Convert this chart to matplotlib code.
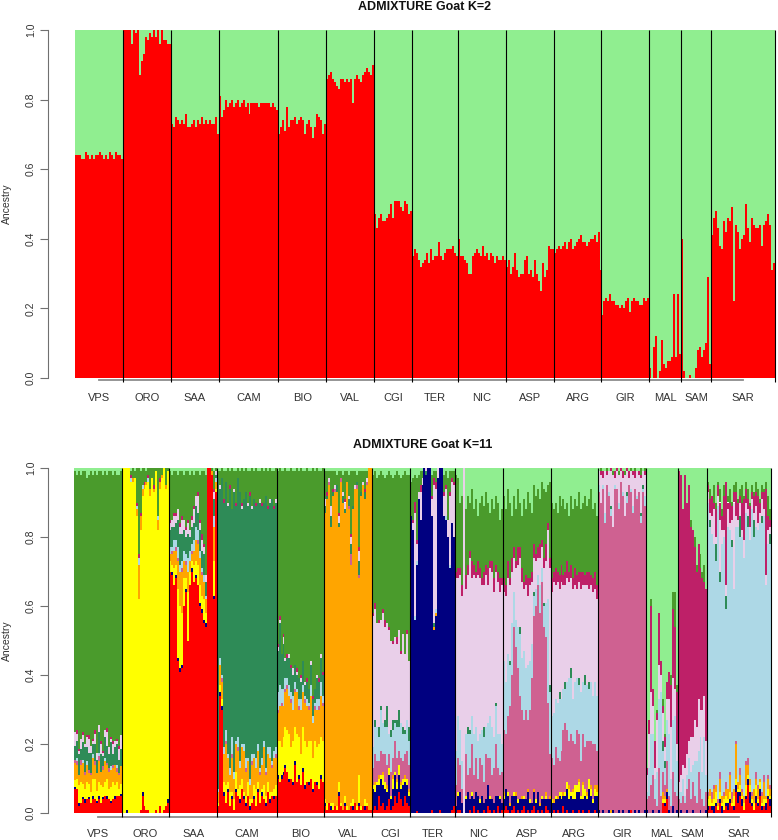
import numpy as np
import matplotlib
matplotlib.use('Agg')
import matplotlib.pyplot as plt
import matplotlib.transforms as mtrans

plt.rcParams['font.family'] = ['Liberation Sans', 'DejaVu Sans']

POPS = ['VPS', 'ORO', 'SAA', 'CAM', 'BIO', 'VAL', 'CGI', 'TER', 'NIC', 'ASP', 'ARG', 'GIR', 'MAL', 'SAM', 'SAR']

# ---- K=2: share of the red cluster per individual ----
k2_vps = [0.64, 0.64, 0.64, 0.63, 0.63, 0.65, 0.64, 0.63, 0.64, 0.63, 0.64, 0.64, 0.65, 0.64, 0.63, 0.64, 0.63, 0.65, 0.64, 0.63, 0.65, 0.64, 0.64, 0.63]
k2_oro = [1.0, 1.0, 1.0, 1.0, 0.96, 1.0, 0.99, 1.0, 0.87, 0.91, 0.93, 0.98, 0.97, 0.99, 0.98, 1.0, 0.98, 1.0, 0.96, 1.0, 0.97, 0.97, 0.96, 0.96]
k2_saa = [0.73, 0.72, 0.75, 0.74, 0.73, 0.74, 0.73, 0.76, 0.72, 0.72, 0.73, 0.74, 0.72, 0.74, 0.73, 0.75, 0.73, 0.74, 0.73, 0.74, 0.73, 0.73, 0.75, 0.70]
k2_cam = [0.81, 0.75, 0.77, 0.80, 0.78, 0.79, 0.80, 0.78, 0.79, 0.80, 0.78, 0.79, 0.80, 0.78, 0.79, 0.76, 0.79, 0.79, 0.79, 0.79, 0.78, 0.79, 0.79, 0.79, 0.79, 0.79, 0.78, 0.79, 0.78, 0.77]
k2_bio = [0.70, 0.72, 0.74, 0.71, 0.78, 0.72, 0.74, 0.74, 0.75, 0.73, 0.74, 0.75, 0.74, 0.70, 0.73, 0.74, 0.72, 0.69, 0.72, 0.76, 0.75, 0.74, 0.70, 0.73]
k2_val = [0.86, 0.87, 0.88, 0.86, 0.85, 0.84, 0.83, 0.86, 0.86, 0.85, 0.86, 0.85, 0.86, 0.79, 0.86, 0.87, 0.86, 0.85, 0.87, 0.88, 0.89, 0.88, 0.87, 0.90]
k2_cgi = [0.47, 0.43, 0.46, 0.47, 0.45, 0.45, 0.46, 0.47, 0.50, 0.46, 0.51, 0.51, 0.51, 0.49, 0.48, 0.51, 0.50, 0.47, 0.48]
k2_ter = [0.35, 0.37, 0.36, 0.34, 0.32, 0.33, 0.34, 0.36, 0.33, 0.37, 0.34, 0.35, 0.35, 0.39, 0.35, 0.34, 0.36, 0.37, 0.37, 0.37, 0.38, 0.36, 0.35]
k2_nic = [0.40, 0.35, 0.35, 0.34, 0.33, 0.30, 0.30, 0.35, 0.36, 0.37, 0.36, 0.35, 0.38, 0.35, 0.36, 0.34, 0.36, 0.35, 0.33, 0.35, 0.34, 0.34, 0.35, 0.34]
k2_asp = [0.32, 0.34, 0.30, 0.32, 0.36, 0.31, 0.29, 0.30, 0.30, 0.34, 0.35, 0.30, 0.31, 0.29, 0.34, 0.30, 0.28, 0.25, 0.33, 0.29, 0.31, 0.38, 0.37, 0.37]
k2_arg = [0.36, 0.37, 0.38, 0.37, 0.38, 0.39, 0.37, 0.39, 0.40, 0.37, 0.38, 0.39, 0.40, 0.41, 0.39, 0.39, 0.38, 0.39, 0.40, 0.40, 0.41, 0.39, 0.42, 0.31]
k2_gir = [0.18, 0.22, 0.23, 0.22, 0.24, 0.22, 0.22, 0.21, 0.21, 0.20, 0.21, 0.20, 0.22, 0.23, 0.19, 0.22, 0.23, 0.22, 0.22, 0.21, 0.21, 0.23, 0.22, 0.23]
k2_mal = [0.03, 0.00, 0.09, 0.12, 0.00, 0.02, 0.11, 0.04, 0.03, 0.05, 0.05, 0.06, 0.24, 0.06, 0.24, 0.07]
k2_sam = [0.40, 0.02, 0.00, 0.00, 0.01, 0.00, 0.00, 0.03, 0.08, 0.09, 0.06, 0.08, 0.10, 0.29, 0.04]
k2_sar = [0.41, 0.46, 0.48, 0.43, 0.38, 0.37, 0.45, 0.42, 0.46, 0.45, 0.49, 0.22, 0.44, 0.42, 0.37, 0.40, 0.41, 0.50, 0.43, 0.39,
          0.46, 0.44, 0.43, 0.43, 0.44, 0.38, 0.44, 0.45, 0.47, 0.44, 0.31, 0.33]

# ---- K=11: clusters listed bottom to top ----
COMPS = ['red', 'navy', 'yellow', 'orange', 'pvr', 'lightblue', 'seagreen', 'thistle', 'maroon', 'forestgreen', 'lightgreen']
COLOURS = ['#ff0000', '#000080', '#ffff00', '#ffa500', '#cf6191', '#add8e6', '#2e8b57', '#e9cfe9', '#be2068', '#4a9b2c', '#90ee90']
# cluster that takes the rest of each bar
FILL = ['forestgreen', 'yellow', 'forestgreen', 'seagreen', 'forestgreen', 'orange', 'forestgreen', 'navy',
        'forestgreen', 'forestgreen', 'forestgreen', 'pvr', 'lightgreen', 'maroon', 'lightblue']

k11_vps = dict(
    red=[0.07, 0.07, 0.02, 0.03, 0.04, 0.03, 0.04, 0.04, 0.03, 0.04, 0.04, 0.03, 0.04, 0.03, 0.04, 0.05, 0.04, 0.04, 0.03, 0.04, 0.04, 0.05, 0.05, 0.05],
    navy=[0.005, 0, 0.01, 0, 0.005, 0.01, 0, 0.005, 0, 0.01, 0, 0.005, 0.01, 0, 0.005, 0, 0.01, 0, 0.005, 0, 0.01, 0, 0, 0.005],
    yellow=[0.02, 0.03, 0.05, 0.06, 0.04, 0.03, 0.05, 0.04, 0.03, 0.05, 0.06, 0.03, 0.04, 0.05, 0.03, 0.04, 0.05, 0.03, 0.04, 0.05, 0.03, 0.04, 0.02, 0.03],
    orange=[0.05, 0.04, 0.03, 0.05, 0.06, 0.04, 0.05, 0.03, 0.05, 0.06, 0.04, 0.05, 0.06, 0.04, 0.05, 0.06, 0.04, 0.05, 0.05, 0.04, 0.06, 0.03, 0.04, 0.05],
    pvr=[0.01, 0.01, 0, 0.015, 0, 0.01, 0, 0.01, 0.005, 0, 0.01, 0, 0.015, 0, 0.01, 0, 0.005, 0.01, 0, 0.01, 0, 0.01, 0.005, 0],
    lightblue=[0, 0.01, 0, 0, 0.01, 0, 0.01, 0, 0, 0.01, 0, 0, 0.01, 0, 0, 0.01, 0, 0, 0.01, 0, 0, 0.01, 0, 0],
    seagreen=[0.04, 0.05, 0.06, 0.03, 0.05, 0.07, 0.04, 0.05, 0.06, 0.03, 0.05, 0.04, 0.06, 0.05, 0.03, 0.06, 0.05, 0.04, 0.07, 0.03, 0.05, 0.06, 0.04, 0.05],
    thistle=[0.04, 0.02, 0.01, 0.03, 0.02, 0.01, 0.03, 0.04, 0.02, 0.01, 0.03, 0.02, 0.02, 0.03, 0.01, 0.02, 0.04, 0.02, 0.01, 0.03, 0.02, 0.01, 0.03, 0.04],
    maroon=[0, 0.01, 0.005, 0, 0.01, 0, 0.005, 0.01, 0, 0.005, 0.01, 0, 0, 0.01, 0.005, 0, 0.01, 0, 0.005, 0.01, 0, 0.005, 0.01, 0],
    lightgreen=[0.01, 0.02, 0.01, 0.02, 0.01, 0.01, 0.03, 0.02, 0.01, 0.02, 0.01, 0.02, 0.01, 0.01, 0.02, 0.01, 0.02, 0.01, 0.01, 0.02, 0.01, 0.02, 0.02, 0.01])
k11_oro = dict(
    red=[0, 0, 0, 0, 0, 0, 0, 0, 0, 0.01, 0.05, 0.02, 0.01, 0.01, 0, 0, 0, 0.01, 0, 0.02, 0, 0.01, 0.02, 0.03],
    navy=[0, 0, 0.01, 0, 0, 0, 0, 0, 0, 0, 0.01, 0, 0, 0, 0, 0, 0, 0, 0, 0, 0, 0, 0, 0.01],
    orange=[0, 0, 0, 0, 0, 0.01, 0, 0.02, 0.10, 0.04, 0.02, 0.01, 0.01, 0, 0.02, 0, 0.01, 0, 0.03, 0.02, 0.01, 0, 0.01, 0],
    lightblue=[0, 0, 0, 0, 0.01, 0, 0, 0.01, 0.02, 0, 0.01, 0, 0, 0.01, 0, 0, 0, 0, 0.01, 0, 0, 0, 0, 0],
    maroon=[0, 0, 0, 0, 0.01, 0, 0, 0.01, 0.01, 0.01, 0, 0.01, 0, 0.01, 0, 0, 0.01, 0, 0, 0.01, 0, 0, 0, 0],
    forestgreen=[0, 0, 0, 0, 0.01, 0.03, 0.02, 0.10, 0.25, 0.12, 0.05, 0.04, 0.03, 0.02, 0.06, 0.03, 0.05, 0.01, 0.14, 0.03, 0.02, 0, 0.05, 0.01],
    lightgreen=[0, 0, 0, 0, 0.01, 0, 0.01, 0, 0, 0.01, 0, 0, 0.01, 0, 0, 0, 0, 0, 0, 0, 0, 0, 0, 0])
k11_saa = dict(
    red=[0.70, 0.69, 0.66, 0.68, 0.44, 0.41, 0.42, 0.60, 0.64, 0.50, 0.66, 0.70, 0.67, 0.68, 0.66, 0.60, 0.58, 0.55, 0.54, 1.00, 1.00, 0.98, 0.62, 0.93],
    navy=[0, 0.01, 0, 0.01, 0.01, 0.01, 0.01, 0, 0.01, 0, 0, 0.01, 0, 0.01, 0, 0.01, 0.01, 0.01, 0.01, 0, 0, 0, 0.01, 0],
    yellow=[0.03, 0.02, 0.05, 0.03, 0.20, 0.18, 0.15, 0.08, 0.03, 0.14, 0.04, 0.02, 0.05, 0.04, 0.06, 0.05, 0.04, 0.06, 0.03, 0, 0, 0, 0.10, 0.01],
    orange=[0.02, 0.03, 0.05, 0.04, 0.08, 0.10, 0.12, 0.05, 0.04, 0.06, 0.03, 0.02, 0.04, 0.06, 0.06, 0.08, 0.06, 0.05, 0.04, 0, 0, 0.01, 0.10, 0.02],
    pvr=[0, 0.01, 0, 0.01, 0.01, 0, 0.01, 0, 0.01, 0, 0, 0.01, 0, 0, 0.01, 0, 0.01, 0, 0, 0, 0, 0, 0, 0],
    lightblue=[0.02, 0.01, 0.03, 0.02, 0.03, 0.02, 0.02, 0.03, 0.02, 0.04, 0.03, 0.02, 0.03, 0.04, 0.03, 0.02, 0.01, 0.02, 0.01, 0, 0, 0, 0.03, 0.01],
    seagreen=[0.05, 0.06, 0.04, 0.05, 0.08, 0.09, 0.08, 0.06, 0.05, 0.07, 0.04, 0.05, 0.05, 0.06, 0.05, 0.06, 0.05, 0.06, 0.04, 0, 0, 0, 0.05, 0.01],
    thistle=[0.02, 0.02, 0.03, 0.02, 0.03, 0.02, 0.04, 0.03, 0.02, 0.03, 0.02, 0.02, 0.04, 0.03, 0.05, 0.02, 0.03, 0.02, 0.02, 0, 0, 0, 0.02, 0.01],
    maroon=[0.01, 0, 0.01, 0.01, 0, 0.01, 0.01, 0, 0.01, 0.01, 0, 0.01, 0.01, 0, 0.01, 0.01, 0.02, 0.01, 0, 0, 0, 0, 0.01, 0],
    lightgreen=[0.01, 0.02, 0.01, 0.01, 0.02, 0.01, 0.01, 0.02, 0.01, 0.01, 0.02, 0.01, 0.02, 0.01, 0.01, 0.02, 0.01, 0.01, 0.02, 0, 0, 0, 0.01, 0])
k11_cam = dict(
    red=[0.02, 0.34, 0.30, 0.05, 0.03, 0.06, 0.02, 0.04, 0.01, 0.06, 0.05, 0.03, 0.07, 0.04, 0.02, 0.05, 0.01, 0.03, 0.04, 0.02, 0.06, 0.03, 0.05, 0.04, 0.02, 0.06, 0.03, 0.05, 0.04, 0.05],
    navy=[0, 0.01, 0.01, 0.01, 0, 0.01, 0, 0.01, 0, 0.01, 0, 0.01, 0, 0.01, 0.01, 0, 0.01, 0, 0.01, 0, 0.01, 0, 0.01, 0, 0.01, 0, 0.01, 0, 0.01, 0],
    yellow=[0.01, 0.02, 0.02, 0.03, 0.05, 0.02, 0.04, 0.01, 0.03, 0.05, 0.02, 0.04, 0.03, 0.01, 0.02, 0.04, 0.02, 0.01, 0.03, 0.05, 0.02, 0.03, 0.01, 0.04, 0.02, 0.03, 0.02, 0.01, 0.02, 0.03],
    orange=[0.03, 0.06, 0.05, 0.08, 0.12, 0.07, 0.05, 0.10, 0.06, 0.08, 0.11, 0.05, 0.09, 0.12, 0.07, 0.06, 0.04, 0.10, 0.08, 0.06, 0.09, 0.05, 0.07, 0.11, 0.06, 0.08, 0.10, 0.07, 0.09, 0.08],
    pvr=[0, 0, 0.01, 0, 0.01, 0, 0, 0.01, 0, 0, 0.01, 0, 0, 0, 0.01, 0, 0, 0.01, 0, 0, 0, 0.01, 0, 0, 0.01, 0, 0, 0.01, 0, 0.01],
    lightblue=[0.01, 0.02, 0.01, 0.02, 0.03, 0.01, 0.02, 0.05, 0.02, 0.01, 0.03, 0.02, 0.01, 0.02, 0.03, 0.01, 0.02, 0.02, 0.01, 0.03, 0.02, 0.01, 0.02, 0.02, 0.01, 0.02, 0.03, 0.01, 0.02, 0.02],
    thistle=[0, 0.01, 0, 0, 0, 0.01, 0, 0, 0.01, 0, 0, 0, 0.01, 0, 0, 0.01, 0, 0.01, 0, 0, 0, 0.01, 0, 0, 0, 0, 0.01, 0, 0, 0.01],
    maroon=[0, 0, 0, 0.01, 0, 0, 0.01, 0, 0, 0.01, 0, 0, 0.01, 0, 0, 0, 0.01, 0, 0, 0.01, 0, 0, 0.01, 0, 0, 0.01, 0, 0, 0.01, 0],
    forestgreen=[0.02, 0.04, 0.03, 0.08, 0.03, 0.10, 0.04, 0.12, 0.05, 0.09, 0.03, 0.06, 0.10, 0.08, 0.07, 0.09, 0.06, 0.11, 0.08, 0.10, 0.09, 0.08, 0.10, 0.09, 0.08, 0.10, 0.09, 0.08, 0.10, 0.09],
    lightgreen=[0.01, 0.01, 0, 0.01, 0.01, 0, 0.01, 0, 0.01, 0.01, 0, 0.01, 0, 0.01, 0, 0.01, 0.01, 0, 0.01, 0, 0.01, 0.01, 0, 0.01, 0, 0.01, 0, 0.01, 0.01, 0])
k11_bio = dict(
    red=[0.10, 0.09, 0.10, 0.11, 0.13, 0.12, 0.09, 0.10, 0.08, 0.14, 0.09, 0.10, 0.08, 0.12, 0.07, 0.09, 0.08, 0.10, 0.06, 0.09, 0.08, 0.07, 0.10, 0.09],
    navy=[0.01, 0, 0.01, 0.01, 0.01, 0, 0.01, 0, 0.01, 0.01, 0, 0.01, 0, 0.01, 0.01, 0, 0.01, 0, 0.01, 0, 0.01, 0, 0.01, 0],
    yellow=[0.10, 0.12, 0.08, 0.10, 0.11, 0.12, 0.13, 0.09, 0.12, 0.10, 0.14, 0.11, 0.09, 0.12, 0.13, 0.10, 0.12, 0.11, 0.09, 0.12, 0.10, 0.13, 0.11, 0.12],
    orange=[0.08, 0.10, 0.12, 0.09, 0.10, 0.12, 0.11, 0.13, 0.09, 0.10, 0.12, 0.08, 0.13, 0.10, 0.11, 0.12, 0.09, 0.13, 0.10, 0.09, 0.11, 0.10, 0.12, 0.10],
    pvr=[0.01, 0, 0.01, 0, 0.01, 0.01, 0, 0.01, 0, 0.01, 0, 0.01, 0, 0, 0.01, 0, 0.01, 0, 0, 0.01, 0, 0.01, 0, 0.01],
    lightblue=[0.05, 0.06, 0.04, 0.05, 0.03, 0.02, 0.03, 0.02, 0.04, 0.02, 0.01, 0.02, 0.03, 0.02, 0.01, 0.02, 0.01, 0.03, 0.02, 0.01, 0.03, 0.02, 0.04, 0.02],
    seagreen=[0.12, 0.18, 0.10, 0.13, 0.05, 0.06, 0.08, 0.07, 0.06, 0.05, 0.04, 0.06, 0.05, 0.07, 0.03, 0.05, 0.04, 0.06, 0.05, 0.04, 0.06, 0.05, 0.07, 0.06],
    thistle=[0.01, 0.01, 0, 0.02, 0.01, 0, 0.01, 0, 0.02, 0, 0.01, 0, 0.01, 0, 0.01, 0, 0, 0.01, 0, 0, 0.01, 0, 0.01, 0],
    maroon=[0.01, 0.01, 0, 0.01, 0, 0.01, 0, 0.01, 0, 0, 0.01, 0, 0.01, 0, 0, 0.01, 0, 0, 0.01, 0, 0, 0.01, 0, 0.01],
    lightgreen=[0.01, 0, 0.01, 0.01, 0, 0.01, 0.01, 0, 0.01, 0.01, 0, 0.01, 0, 0.01, 0.01, 0, 0.01, 0.01, 0, 0.01, 0, 0.01, 0.01, 0])
k11_val = dict(
    red=[0.02, 0.01, 0.03, 0.01, 0.01, 0.02, 0.01, 0.05, 0.02, 0.01, 0.02, 0.01, 0.01, 0.02, 0.01, 0.03, 0.01, 0.02, 0.01, 0.02, 0.01, 0.02, 0.01, 0.01],
    navy=[0.01, 0, 0, 0.01, 0, 0, 0, 0.01, 0, 0, 0.01, 0, 0, 0, 0.01, 0, 0, 0.01, 0, 0, 0.01, 0, 0, 0],
    yellow=[0.01, 0.02, 0, 0.01, 0.02, 0, 0.01, 0.03, 0.01, 0, 0.02, 0.01, 0, 0.01, 0.02, 0, 0.01, 0.08, 0.01, 0, 0.02, 0.01, 0, 0],
    pvr=[0, 0, 0.01, 0, 0, 0.01, 0, 0, 0.01, 0, 0, 0, 0.01, 0.03, 0, 0, 0.01, 0.01, 0, 0, 0, 0.01, 0, 0],
    seagreen=[0.02, 0.01, 0, 0.03, 0.01, 0, 0.02, 0.01, 0, 0.02, 0.01, 0, 0.02, 0.03, 0.01, 0, 0.01, 0.04, 0.01, 0, 0.02, 0, 0, 0],
    thistle=[0.02, 0, 0.01, 0.03, 0, 0.01, 0, 0.02, 0, 0.01, 0.02, 0, 0.01, 0.02, 0, 0.01, 0, 0.03, 0, 0.01, 0, 0.01, 0, 0],
    maroon=[0, 0.01, 0, 0, 0.01, 0, 0, 0.01, 0, 0, 0.01, 0, 0, 0.01, 0, 0, 0, 0.01, 0, 0, 0.01, 0, 0, 0],
    forestgreen=[0.08, 0.06, 0.02, 0.10, 0.05, 0.04, 0.03, 0.12, 0.02, 0.05, 0.08, 0.03, 0.06, 0.18, 0.10, 0.04, 0.02, 0.22, 0.06, 0.03, 0.05, 0.02, 0, 0],
    lightgreen=[0.01, 0.01, 0.01, 0.01, 0.01, 0.01, 0.02, 0.01, 0.01, 0.02, 0.01, 0.01, 0.02, 0.01, 0.01, 0.01, 0.02, 0.01, 0.01, 0.01, 0.01, 0.01, 0, 0])
k11_cgi = dict(
    red=[0.01, 0.02, 0.01, 0.05, 0.02, 0.03, 0.01, 0.02, 0.04, 0.01, 0.02, 0.05, 0.03, 0.06, 0.04, 0.02, 0.05, 0.03, 0.02],
    navy=[0.06, 0.04, 0.07, 0.03, 0.08, 0.05, 0.06, 0.04, 0.07, 0.03, 0.05, 0.06, 0.04, 0.05, 0.03, 0.06, 0.04, 0.05, 0.03],
    yellow=[0.01, 0.02, 0.01, 0.02, 0.01, 0.03, 0.02, 0.01, 0.02, 0.01, 0.03, 0.01, 0.02, 0.03, 0.01, 0.02, 0.01, 0.02, 0.01],
    orange=[0, 0.01, 0, 0.01, 0, 0.01, 0, 0.01, 0, 0, 0.01, 0, 0.01, 0, 0.01, 0, 0.01, 0, 0.01],
    pvr=[0.05, 0.08, 0.06, 0.04, 0.07, 0.05, 0.08, 0.06, 0.04, 0.07, 0.05, 0.09, 0.06, 0.04, 0.07, 0.05, 0.06, 0.08, 0.07],
    lightblue=[0.06, 0.08, 0.10, 0.07, 0.12, 0.09, 0.08, 0.11, 0.06, 0.10, 0.08, 0.05, 0.09, 0.07, 0.10, 0.08, 0.06, 0.09, 0.07],
    seagreen=[0, 0.02, 0, 0.03, 0.01, 0, 0.02, 0.06, 0, 0.02, 0.03, 0.01, 0.02, 0.05, 0, 0.02, 0.01, 0, 0.04],
    thistle=[0.38, 0.32, 0.30, 0.30, 0.25, 0.32, 0.27, 0.24, 0.30, 0.26, 0.22, 0.24, 0.22, 0.23, 0.20, 0.27, 0.22, 0.25, 0.19],
    maroon=[0.01, 0.02, 0, 0.01, 0, 0.01, 0.02, 0, 0.01, 0, 0.01, 0, 0.02, 0, 0.01, 0, 0, 0.01, 0],
    lightgreen=[0.02, 0.01, 0.03, 0.02, 0.01, 0.02, 0.03, 0.02, 0.01, 0.02, 0.03, 0.02, 0.01, 0.02, 0.03, 0.02, 0.01, 0.02, 0.02])
k11_ter = dict(
    red=[0, 0, 0, 0.005, 0, 0, 0, 0, 0, 0, 0, 0.01, 0, 0, 0, 0.01, 0, 0, 0, 0, 0, 0.01, 0.02],
    orange=[0, 0, 0, 0, 0, 0, 0, 0, 0, 0, 0, 0, 0.01, 0.01, 0, 0, 0, 0, 0, 0, 0, 0, 0],
    lightblue=[0, 0, 0.01, 0.01, 0, 0, 0, 0, 0, 0, 0, 0, 0, 0.01, 0, 0, 0, 0, 0.01, 0, 0.01, 0, 0],
    seagreen=[0, 0, 0, 0, 0, 0, 0, 0, 0.01, 0, 0, 0, 0.01, 0, 0, 0, 0, 0, 0, 0, 0, 0, 0],
    thistle=[0, 0.02, 0.30, 0.05, 0.02, 0.08, 0.02, 0, 0.01, 0, 0, 0.05, 0.40, 0.35, 0.03, 0, 0, 0.06, 0.08, 0.05, 0.20, 0.12, 0.15],
    maroon=[0, 0.01, 0.03, 0.01, 0, 0.02, 0, 0, 0, 0, 0, 0.01, 0.02, 0.02, 0, 0, 0, 0.01, 0.01, 0, 0.01, 0.01, 0.01],
    forestgreen=[0.10, 0.12, 0.08, 0.18, 0.05, 0.04, 0.02, 0, 0, 0, 0, 0.06, 0.02, 0.03, 0, 0, 0, 0.05, 0.04, 0.12, 0.06, 0.02, 0.03],
    lightgreen=[0.04, 0.03, 0.02, 0.03, 0.02, 0.01, 0.01, 0, 0, 0, 0, 0.02, 0.01, 0.01, 0, 0, 0, 0.02, 0.01, 0.03, 0.01, 0.01, 0.01])
k11_nic = dict(
    red=[0, 0.01, 0.01, 0, 0, 0, 0, 0.01, 0, 0.02, 0, 0.01, 0, 0, 0.01, 0, 0.02, 0.01, 0, 0.01, 0, 0.02, 0, 0.01],
    navy=[0.02, 0.04, 0.05, 0.03, 0, 0.04, 0.06, 0.03, 0.05, 0.02, 0.06, 0.04, 0.03, 0.05, 0.02, 0.04, 0.06, 0.03, 0.04, 0.02, 0.05, 0.03, 0.04, 0.02],
    yellow=[0, 0.01, 0, 0, 0, 0.01, 0, 0, 0.01, 0, 0, 0, 0.01, 0, 0, 0, 0, 0.01, 0, 0, 0, 0, 0.01, 0],
    pvr=[0.06, 0.10, 0.08, 0.04, 0, 0.12, 0.05, 0.09, 0.14, 0.07, 0.10, 0.05, 0.12, 0.09, 0.06, 0.13, 0.08, 0.11, 0.07, 0.10, 0.15, 0.08, 0.06, 0.09],
    lightblue=[0.10, 0.12, 0.10, 0.08, 0, 0.06, 0.12, 0.10, 0.08, 0.12, 0.09, 0.11, 0.07, 0.10, 0.13, 0.08, 0.10, 0.12, 0.14, 0.09, 0.11, 0.10, 0.12, 0.08],
    seagreen=[0, 0, 0, 0, 0, 0, 0.02, 0.01, 0, 0, 0, 0, 0, 0, 0.03, 0, 0, 0, 0, 0, 0.01, 0, 0, 0],
    thistle=[0.50, 0.40, 0.45, 0.48, 1.00, 0.42, 0.44, 0.50, 0.40, 0.46, 0.43, 0.48, 0.45, 0.42, 0.41, 0.44, 0.40, 0.43, 0.45, 0.42, 0.38, 0.44, 0.41, 0.46],
    maroon=[0.02, 0.03, 0.02, 0.03, 0, 0.04, 0.03, 0.02, 0.05, 0.03, 0.02, 0.04, 0.03, 0.02, 0.04, 0.03, 0.05, 0.02, 0.03, 0.04, 0.02, 0.03, 0.04, 0.02],
    lightgreen=[0.02, 0.03, 0.10, 0.08, 0, 0.12, 0.08, 0.10, 0.06, 0.12, 0.09, 0.14, 0.10, 0.08, 0.11, 0.07, 0.10, 0.13, 0.09, 0.12, 0.08, 0.10, 0.15, 0.12])
k11_asp = dict(
    red=[0.01, 0.02, 0.01, 0, 0.01, 0.02, 0, 0.01, 0, 0.01, 0.02, 0, 0.01, 0, 0.01, 0.02, 0, 0.01, 0, 0.01, 0, 0.02, 0.01, 0],
    navy=[0.03, 0.05, 0.04, 0.02, 0.04, 0.03, 0.05, 0.02, 0.04, 0.03, 0.02, 0.04, 0.05, 0.03, 0.02, 0.04, 0.03, 0.05, 0.02, 0.03, 0.04, 0.02, 0.03, 0.04],
    yellow=[0.01, 0, 0.01, 0, 0, 0.01, 0, 0.01, 0, 0, 0.01, 0, 0, 0.01, 0, 0, 0.01, 0, 0, 0.01, 0, 0.01, 0, 0],
    orange=[0.01, 0, 0, 0.01, 0, 0, 0.01, 0, 0, 0.01, 0, 0, 0.01, 0, 0, 0.01, 0, 0, 0.01, 0, 0, 0.01, 0, 0.01],
    pvr=[0.18, 0.16, 0.22, 0.28, 0.35, 0.48, 0.42, 0.38, 0.30, 0.25, 0.22, 0.26, 0.20, 0.26, 0.36, 0.50, 0.56, 0.60, 0.55, 0.62, 0.50, 0.45, 0.28, 0.12],
    lightblue=[0.20, 0.15, 0.18, 0.12, 0.15, 0.10, 0.08, 0.12, 0.18, 0.15, 0.20, 0.12, 0.16, 0.14, 0.10, 0.06, 0.05, 0.03, 0.08, 0.04, 0.06, 0.10, 0.30, 0.18],
    seagreen=[0, 0, 0, 0.01, 0, 0, 0, 0, 0.02, 0, 0, 0, 0, 0, 0, 0.01, 0, 0, 0, 0, 0.01, 0, 0, 0.02],
    thistle=[0.20, 0.25, 0.22, 0.22, 0.15, 0.10, 0.15, 0.18, 0.20, 0.22, 0.18, 0.24, 0.20, 0.22, 0.18, 0.10, 0.08, 0.05, 0.08, 0.06, 0.10, 0.12, 0.20, 0.34],
    maroon=[0.04, 0.03, 0.05, 0.02, 0.04, 0.03, 0.02, 0.05, 0.03, 0.04, 0.02, 0.03, 0.05, 0.02, 0.03, 0.04, 0.02, 0.03, 0.04, 0.02, 0.03, 0.05, 0.02, 0.03],
    lightgreen=[0.08, 0.12, 0.06, 0.10, 0.14, 0.08, 0.12, 0.06, 0.10, 0.14, 0.09, 0.12, 0.07, 0.10, 0.13, 0.05, 0.08, 0.06, 0.09, 0.04, 0.06, 0.07, 0.05, 0.04])
k11_arg = dict(
    red=[0, 0.01, 0, 0.01, 0, 0, 0.02, 0, 0.01, 0, 0, 0.01, 0, 0, 0.01, 0, 0.01, 0, 0, 0.01, 0, 0, 0.01, 0],
    navy=[0.03, 0.02, 0.04, 0.03, 0.05, 0.04, 0.03, 0.05, 0.06, 0.04, 0.05, 0.03, 0.04, 0.06, 0.05, 0.04, 0.03, 0.05, 0.04, 0.06, 0.05, 0.03, 0.04, 0.05],
    yellow=[0.01, 0, 0.01, 0, 0.01, 0.02, 0, 0.01, 0.02, 0.03, 0.01, 0.02, 0.04, 0.02, 0.03, 0.01, 0.04, 0.02, 0.01, 0.03, 0.02, 0.01, 0.02, 0.01],
    orange=[0, 0.01, 0, 0.01, 0, 0, 0.01, 0, 0, 0.01, 0, 0.01, 0, 0, 0.01, 0, 0.01, 0, 0.01, 0, 0.01, 0, 0.01, 0.02],
    pvr=[0.12, 0.10, 0.14, 0.11, 0.09, 0.12, 0.18, 0.20, 0.15, 0.13, 0.17, 0.14, 0.12, 0.16, 0.13, 0.10, 0.14, 0.12, 0.15, 0.11, 0.13, 0.16, 0.12, 0.10],
    lightblue=[0.12, 0.15, 0.14, 0.16, 0.18, 0.15, 0.12, 0.10, 0.14, 0.18, 0.16, 0.12, 0.18, 0.15, 0.14, 0.20, 0.15, 0.18, 0.16, 0.15, 0.17, 0.14, 0.18, 0.16],
    seagreen=[0, 0, 0, 0, 0.02, 0, 0, 0.02, 0, 0, 0.03, 0, 0, 0, 0.02, 0, 0, 0.03, 0, 0.02, 0, 0, 0, 0],
    thistle=[0.36, 0.38, 0.33, 0.35, 0.30, 0.34, 0.30, 0.28, 0.30, 0.28, 0.26, 0.32, 0.28, 0.26, 0.28, 0.30, 0.28, 0.26, 0.29, 0.27, 0.28, 0.30, 0.27, 0.28],
    maroon=[0.04, 0.03, 0.05, 0.03, 0.04, 0.05, 0.03, 0.04, 0.05, 0.03, 0.04, 0.03, 0.05, 0.04, 0.03, 0.05, 0.04, 0.03, 0.04, 0.05, 0.03, 0.04, 0.05, 0.04],
    lightgreen=[0.10, 0.12, 0.10, 0.13, 0.08, 0.11, 0.09, 0.12, 0.10, 0.14, 0.08, 0.12, 0.09, 0.11, 0.07, 0.12, 0.10, 0.08, 0.11, 0.09, 0.06, 0.12, 0.10, 0.14])
k11_gir = dict(
    red=[0, 0, 0, 0, 0, 0, 0, 0, 0, 0, 0, 0, 0, 0, 0, 0, 0.01, 0, 0, 0, 0, 0, 0, 0],
    navy=[0.01, 0, 0.01, 0, 0, 0.01, 0, 0.01, 0, 0, 0.01, 0, 0.01, 0, 0, 0.01, 0, 0, 0.01, 0, 0.01, 0, 0, 0.01],
    orange=[0, 0, 0, 0, 0, 0, 0.01, 0, 0, 0, 0, 0, 0, 0, 0, 0, 0, 0, 0, 0, 0, 0, 0, 0],
    lightblue=[0.02, 0, 0.01, 0.03, 0, 0.01, 0.02, 0, 0.01, 0, 0.02, 0, 0.01, 0, 0.02, 0, 0.01, 0.02, 0, 0.01, 0, 0.02, 0.01, 0.03],
    seagreen=[0, 0, 0, 0, 0, 0, 0.01, 0, 0, 0, 0, 0, 0, 0, 0.01, 0, 0, 0, 0, 0, 0, 0.01, 0.01, 0],
    thistle=[0.04, 0.08, 0.02, 0.12, 0.03, 0.06, 0.10, 0.15, 0.02, 0.05, 0.08, 0.03, 0.04, 0.12, 0.06, 0.02, 0.05, 0.09, 0.03, 0.07, 0.05, 0.10, 0.04, 0.06],
    maroon=[0, 0.01, 0.02, 0, 0.01, 0, 0.01, 0, 0.02, 0.01, 0, 0.01, 0.02, 0, 0.01, 0.02, 0, 0.01, 0.02, 0, 0.01, 0.01, 0, 0.01],
    forestgreen=[0, 0.01, 0, 0, 0.01, 0, 0, 0.01, 0, 0, 0.01, 0, 0, 0.01, 0, 0, 0.01, 0, 0.01, 0, 0, 0.02, 0, 0.01],
    lightgreen=[0.01, 0, 0.01, 0.01, 0, 0.01, 0, 0.01, 0.01, 0, 0.01, 0, 0.01, 0.01, 0, 0.01, 0, 0.01, 0, 0.01, 0.01, 0, 0.01, 0])
k11_mal = dict(
    red=[0, 0, 0, 0, 0, 0, 0, 0, 0.03, 0.02, 0.04, 0, 0, 0, 0, 0],
    navy=[0.01, 0, 0, 0.01, 0, 0, 0.01, 0, 0, 0.01, 0.02, 0.01, 0, 0.02, 0, 0.01],
    yellow=[0, 0, 0, 0, 0, 0, 0, 0, 0.01, 0.01, 0, 0, 0, 0, 0, 0],
    orange=[0, 0, 0, 0, 0, 0, 0, 0, 0.02, 0.01, 0.01, 0, 0, 0, 0, 0],
    pvr=[0.03, 0.05, 0.08, 0.10, 0.04, 0.02, 0.12, 0.05, 0.06, 0.03, 0.08, 0.04, 0.02, 0.10, 0.06, 0.04],
    lightblue=[0.02, 0.08, 0.15, 0.12, 0.06, 0.10, 0.20, 0.30, 0.06, 0.05, 0.12, 0.18, 0.08, 0.15, 0.22, 0.10],
    seagreen=[0, 0, 0, 0, 0, 0, 0, 0, 0.03, 0.02, 0, 0, 0, 0, 0, 0],
    thistle=[0.05, 0.10, 0.12, 0.08, 0.03, 0.15, 0.10, 0.05, 0.08, 0.04, 0.06, 0.10, 0.15, 0.12, 0.08, 0.05],
    maroon=[0.02, 0.04, 0.25, 0.05, 0.08, 0.02, 0.15, 0.04, 0.02, 0.03, 0.05, 0.08, 0.12, 0.20, 0.18, 0.15],
    forestgreen=[0, 0, 0.02, 0, 0, 0.01, 0, 0, 0.02, 0.01, 0, 0, 0.03, 0.05, 0.10, 0.02])
k11_sam = dict(
    navy=[0, 0.01, 0, 0, 0.01, 0, 0, 0.01, 0, 0, 0, 0.01, 0, 0, 0.01],
    pvr=[0.04, 0.02, 0.05, 0.03, 0.06, 0.10, 0.04, 0.08, 0.05, 0.03, 0.12, 0.06, 0.04, 0.02, 0.05],
    lightblue=[0.02, 0.03, 0.05, 0.02, 0.04, 0.06, 0.08, 0.05, 0.10, 0.12, 0.06, 0.15, 0.08, 0.20, 0.05],
    thistle=[0.03, 0.05, 0.04, 0.08, 0.06, 0.05, 0.10, 0.08, 0.12, 0.10, 0.15, 0.08, 0.18, 0.12, 0.10],
    forestgreen=[0, 0, 0, 0, 0, 0, 0.02, 0, 0.03, 0.02, 0, 0.04, 0.02, 0.05, 0],
    lightgreen=[0.01, 0.02, 0.12, 0.02, 0.10, 0.05, 0.15, 0.18, 0.20, 0.28, 0.22, 0.25, 0.30, 0.28, 0.35])
k11_sar = dict(
    red=[0.01, 0.02, 0.01, 0, 0.02, 0.01, 0.03, 0, 0.01, 0.02, 0.01, 0.03, 0.02, 0.01, 0.06, 0.03, 0.05, 0.02, 0.01, 0.04, 0.08, 0.03, 0.02, 0.01, 0.03, 0.02, 0.05, 0.01, 0.02, 0.01, 0.04, 0.02],
    navy=[0.01, 0, 0.01, 0.02, 0.01, 0, 0.01, 0.02, 0, 0.01, 0.02, 0.01, 0, 0.01, 0.02, 0.03, 0.01, 0.02, 0, 0.01, 0.02, 0.03, 0.01, 0, 0.02, 0.01, 0.02, 0.01, 0, 0.02, 0.01, 0.02],
    yellow=[0.02, 0.03, 0.01, 0.02, 0.03, 0.01, 0.02, 0.01, 0.03, 0.02, 0.01, 0.02, 0.01, 0.03, 0.02, 0.01, 0.02, 0.01, 0.02, 0.03, 0.01, 0.02, 0.01, 0.02, 0.03, 0.01, 0.02, 0.01, 0.02, 0.01, 0.02, 0.01],
    orange=[0.01, 0.02, 0.01, 0.03, 0.02, 0.01, 0.04, 0.02, 0.01, 0.02, 0.03, 0.05, 0.01, 0.02, 0.10, 0.02, 0.03, 0.01, 0.02, 0.06, 0.03, 0.02, 0.01, 0.04, 0.02, 0.03, 0.01, 0.02, 0.05, 0.01, 0.03, 0.02],
    pvr=[0.01, 0, 0.02, 0.01, 0, 0.01, 0.02, 0, 0.01, 0.02, 0, 0.01, 0.02, 0, 0.01, 0, 0.02, 0.01, 0, 0.01, 0.02, 0, 0.01, 0, 0.02, 0.01, 0, 0.01, 0.02, 0, 0.01, 0.01],
    seagreen=[0, 0.02, 0, 0, 0.05, 0, 0.03, 0, 0, 0.04, 0, 0, 0.02, 0, 0, 0, 0.06, 0, 0, 0, 0.03, 0, 0, 0.05, 0, 0, 0, 0.02, 0, 0, 0, 0.03],
    thistle=[0.03, 0.02, 0.05, 0.10, 0.02, 0.03, 0.15, 0.04, 0.02, 0.03, 0.05, 0.02, 0.06, 0.25, 0.03, 0.02, 0.04, 0.02, 0.05, 0.03, 0.02, 0.04, 0.03, 0.02, 0.06, 0.02, 0.03, 0.05, 0.02, 0.03, 0.04, 0.02],
    maroon=[0.02, 0.04, 0.06, 0.02, 0.08, 0.03, 0.05, 0.04, 0.10, 0.30, 0.02, 0.06, 0.04, 0.03, 0.07, 0.05, 0.02, 0.08, 0.12, 0.04, 0.03, 0.06, 0.02, 0.05, 0.04, 0.08, 0.03, 0.02, 0.05, 0.25, 0.04, 0.02],
    forestgreen=[0.01, 0.03, 0, 0.05, 0.02, 0.01, 0.04, 0.02, 0.03, 0, 0.02, 0.04, 0.01, 0.02, 0.03, 0.01, 0.02, 0.05, 0.01, 0.02, 0.03, 0.01, 0.02, 0.01, 0.03, 0.02, 0.01, 0.02, 0.01, 0.02, 0.06, 0.03],
    lightgreen=[0.04, 0.06, 0.08, 0.05, 0.10, 0.04, 0.06, 0.12, 0.05, 0.04, 0.08, 0.06, 0.10, 0.05, 0.04, 0.09, 0.06, 0.05, 0.08, 0.04, 0.06, 0.10, 0.05, 0.07, 0.04, 0.06, 0.09, 0.05, 0.06, 0.04, 0.08, 0.12])

K2 = [k2_vps, k2_oro, k2_saa, k2_cam, k2_bio, k2_val, k2_cgi, k2_ter, k2_nic, k2_asp, k2_arg, k2_gir, k2_mal, k2_sam, k2_sar]
K11 = [k11_vps, k11_oro, k11_saa, k11_cam, k11_bio, k11_val, k11_cgi, k11_ter, k11_nic, k11_asp, k11_arg, k11_gir, k11_mal, k11_sam, k11_sar]


def q_matrix(parts, fill, n):
    q = np.zeros((n, len(COMPS)))
    for c, v in parts.items():
        q[:, COMPS.index(c)] = v
    q[:, COMPS.index(fill)] = np.clip(1 - q.sum(axis=1), 0, None)
    return q


sizes = np.array([len(v) for v in K2])
N = sizes.sum()
bounds = np.cumsum(sizes)
centres = bounds - sizes / 2.0
x = np.arange(N)
red2 = np.concatenate(K2)
Q = np.vstack([q_matrix(d, f, n) for d, f, n in zip(K11, FILL, sizes)])

W, H = 778, 840
fig = plt.figure(figsize=(W / 100, H / 100), dpi=100)


def px_axes(l, t, r, b):
    return fig.add_axes([l / W, 1 - b / H, (r - l) / W, (b - t) / H])


def decorate(ax, title, outward_px, lab_y, line_y):
    ax.set_xlim(0, N); ax.set_ylim(0, 1)
    for s in ('top', 'right', 'bottom'):
        ax.spines[s].set_visible(False)
    ax.spines['left'].set_position(('outward', outward_px * 0.72))
    ax.spines['left'].set_bounds(0, 1)
    ax.spines['left'].set_color('#707070')
    ax.set_xticks([])
    ax.set_yticks([0, 0.2, 0.4, 0.6, 0.8, 1.0])
    ax.set_yticklabels(['0.0', '0.2', '0.4', '0.6', '0.8', '1.0'], rotation=90, va='center')
    ax.tick_params(axis='y', length=5.8, width=0.8, color='#707070', labelcolor='#333333', labelsize=7.5, pad=3)
    ax.vlines(bounds, -0.011, 1.0, colors='black', lw=0.8, zorder=5, clip_on=False)
    tr = mtrans.blended_transform_factory(ax.transData, ax.transAxes)
    ax.plot([centres[0], centres[-1]], [line_y, line_y], color='#8c8c8c', lw=1.3, transform=tr, clip_on=False)
    for c, p in zip(centres, POPS):
        ax.text(c, lab_y, p, transform=tr, ha='center', va='center', fontsize=8, color='#333333')
    bb = ax.get_position()
    fig.text(bb.x0 + bb.width / 2, bb.y1 + 22.5 / H, title, ha='center', va='center',
             fontsize=9, fontweight='bold', color='#111111')
    fig.text(6.5 / W, bb.y0 + bb.height / 2, 'Ancestry', rotation=90, ha='center', va='center',
             fontsize=7.5, color='#333333')


# ---- K=2 panel ----
ax1 = px_axes(75, 30, 775, 378)
ax1.bar(x, red2, width=1, align='edge', color='#ff0000', lw=0, antialiased=False)
ax1.bar(x, 1 - red2, bottom=red2, width=1, align='edge', color='#90ee90', lw=0, antialiased=False)
decorate(ax1, 'ADMIXTURE Goat K=2', 27, -0.058, -0.007)

# ---- K=11 panel ----
ax2 = px_axes(74, 468, 771, 813)
base = np.zeros(N)
for k, col in enumerate(COLOURS):
    ax2.bar(x, Q[:, k], bottom=base, width=1, align='edge', color=col, lw=0, antialiased=False)
    base = base + Q[:, k]
decorate(ax2, 'ADMIXTURE Goat K=11', 26, -0.061, -0.011)

fig.savefig('out.png', dpi=100, facecolor='white')
